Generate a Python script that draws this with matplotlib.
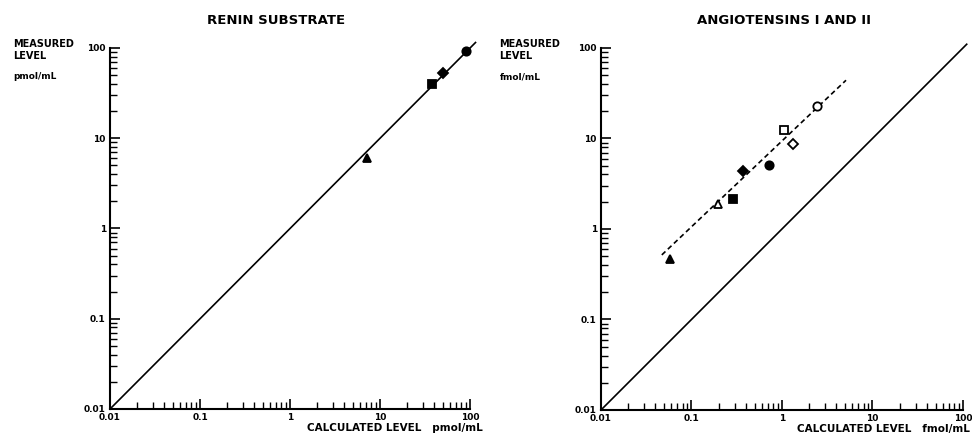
import numpy as np
import matplotlib.pyplot as plt
from matplotlib.ticker import LogLocator, NullFormatter, FixedLocator, FixedFormatter

# Dados
# Painel esquerdo: substrato de renina (pmol/mL)
renina_calc = [90, 50, 38, 7.2]
renina_med = [92, 53, 40, 6.0]
renina_marc = ['o', 'D', 's', '^']
renina_cheio = [True, True, True, True]

# Painel direito: angiotensinas I e II (fmol/mL)
angio_calc = [0.058, 0.198, 0.29, 0.374, 0.71, 1.06, 1.31, 2.44]
angio_med = [0.47, 1.89, 2.13, 4.34, 5.06, 12.3, 8.6, 22.9]
angio_marc = ['^', '^', 's', 'D', 'o', 's', 'D', 'o']
angio_cheio = [True, False, True, True, True, False, False, False]

# Reta de regressão tracejada (extremos)
reta_x = [0.047, 5.1]
reta_y = [0.517, 44]

ticks = [0.01, 0.1, 1, 10, 100]
tick_labels = ['0.01', '0.1', '1', '10', '100']

plt.rcParams['font.family'] = 'DejaVu Sans'
plt.rcParams['font.weight'] = 'bold'

fig = plt.figure(figsize=(9.72, 4.37), dpi=100)
ax1 = fig.add_axes([0.1132, 0.0641, 0.3704, 0.8261])
ax2 = fig.add_axes([0.6183, 0.0618, 0.3724, 0.8284])


def formatar_eixo(ax, unidade, titulo, x_titulo, x_label_fig, x_calc):
    ax.set_xscale('log')
    ax.set_yscale('log')
    ax.set_xlim(0.01, 100)
    ax.set_ylim(0.01, 100)
    for lado in ['top', 'right']:
        ax.spines[lado].set_visible(False)
    for lado in ['left', 'bottom']:
        ax.spines[lado].set_linewidth(1.5)
    ax.xaxis.set_major_locator(FixedLocator(ticks))
    ax.yaxis.set_major_locator(FixedLocator(ticks))
    ax.xaxis.set_major_formatter(FixedFormatter(tick_labels))
    ax.yaxis.set_major_formatter(FixedFormatter(tick_labels))
    ax.xaxis.set_minor_locator(LogLocator(base=10, subs=np.arange(2, 10)))
    ax.yaxis.set_minor_locator(LogLocator(base=10, subs=np.arange(2, 10)))
    ax.xaxis.set_minor_formatter(NullFormatter())
    ax.yaxis.set_minor_formatter(NullFormatter())
    ax.tick_params(which='major', direction='in', length=7, width=1.2,
                   labelsize=6.5, pad=3)
    ax.tick_params(which='minor', direction='in', length=5, width=1.0)
    # Título centrado como na figura original (um pouco à esquerda)
    fig.text(x_titulo, 0.954, titulo, fontsize=9.5, fontweight='bold',
             ha='center', va='center')
    # Rótulos dos eixos no estilo da figura original
    fig.text(x_label_fig, 0.91, 'MEASURED\nLEVEL', fontsize=7, fontweight='bold',
             va='top', linespacing=1.15)
    fig.text(x_label_fig, 0.835, unidade, fontsize=6.5, fontweight='bold', va='top')
    ax.text(x_calc, -0.053, 'CALCULATED LEVEL   ' + unidade, transform=ax.transAxes,
            ha='right', va='center', fontsize=7.5, fontweight='bold')


# Painel esquerdo
formatar_eixo(ax1, 'pmol/mL', 'RENIN SUBSTRATE', 0.284, 0.014, 1.035)
ax1.plot([0.01, 115], [0.01, 115], 'k-', linewidth=1.2, clip_on=False)
for x, y, m, c in zip(renina_calc, renina_med, renina_marc, renina_cheio):
    ax1.plot(x, y, marker=m, markersize=6 if m != 'D' else 5,
             color='k', markerfacecolor='k' if c else 'white',
             markeredgewidth=1.3, clip_on=False, zorder=5)

# Painel direito
formatar_eixo(ax2, 'fmol/mL', 'ANGIOTENSINS I AND II', 0.807, 0.514, 1.02)
ax2.plot([0.01, 110], [0.01, 110], 'k-', linewidth=1.2, clip_on=False)
ax2.plot(reta_x, reta_y, 'k--', linewidth=1.2, dashes=(3, 2))
for x, y, m, c in zip(angio_calc, angio_med, angio_marc, angio_cheio):
    ax2.plot(x, y, marker=m, markersize=6 if m != 'D' else 5,
             color='k', markerfacecolor='k' if c else 'white',
             markeredgewidth=1.3, clip_on=False, zorder=5)

fig.savefig('out.png', dpi=100)
